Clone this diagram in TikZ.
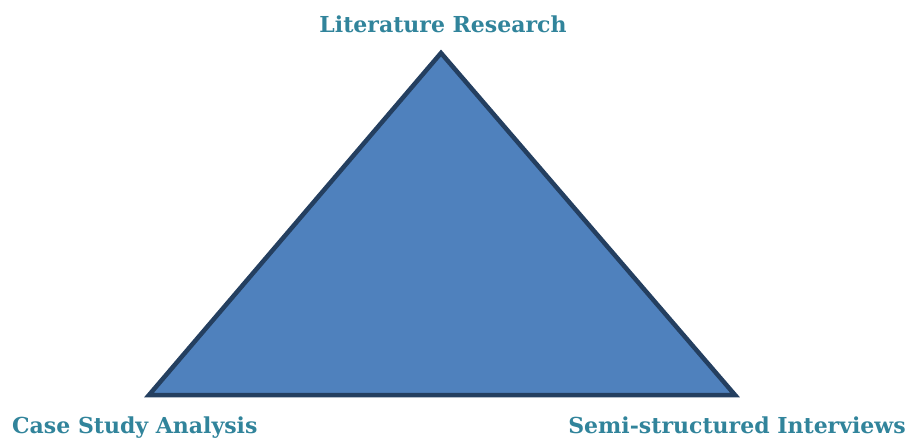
\documentclass[tikz,border=0pt]{standalone}
\usepackage{fontspec}
\setmainfont{DejaVu Serif}
\usetikzlibrary{positioning}
\definecolor{triFill}{RGB}{79,129,189}
\definecolor{triLine}{RGB}{36,63,96}
\definecolor{labelTeal}{RGB}{49,132,155}
\begin{document}
\begin{tikzpicture}[x=1pt,y=-1pt]
    \tikzstyle{every node}+=[inner sep=0pt]
    \tikzstyle{corner}=[font=\bfseries\fontsize{22}{26}\selectfont, text=labelTeal]
    \useasboundingbox (0,0) rectangle (909,439);
    % triangle corners
    \coordinate (apex) at (441,53);
    \coordinate (baseL) at (149,395);
    \coordinate (baseR) at (735,395);
    \draw [triLine, fill=triFill, line width=4.5pt, line join=miter] (apex) -- (baseL) -- (baseR) -- cycle;
    % labels
    \node [corner, anchor=base] (litRes) at (443,32) {Literature Research};
    \node [corner, anchor=base west] (caseStudy) at (12,433) {Case Study Analysis};
    \node [corner, anchor=base east] (semiInt) at (906,433) {Semi-structured Interviews};
\end{tikzpicture}
\end{document}
